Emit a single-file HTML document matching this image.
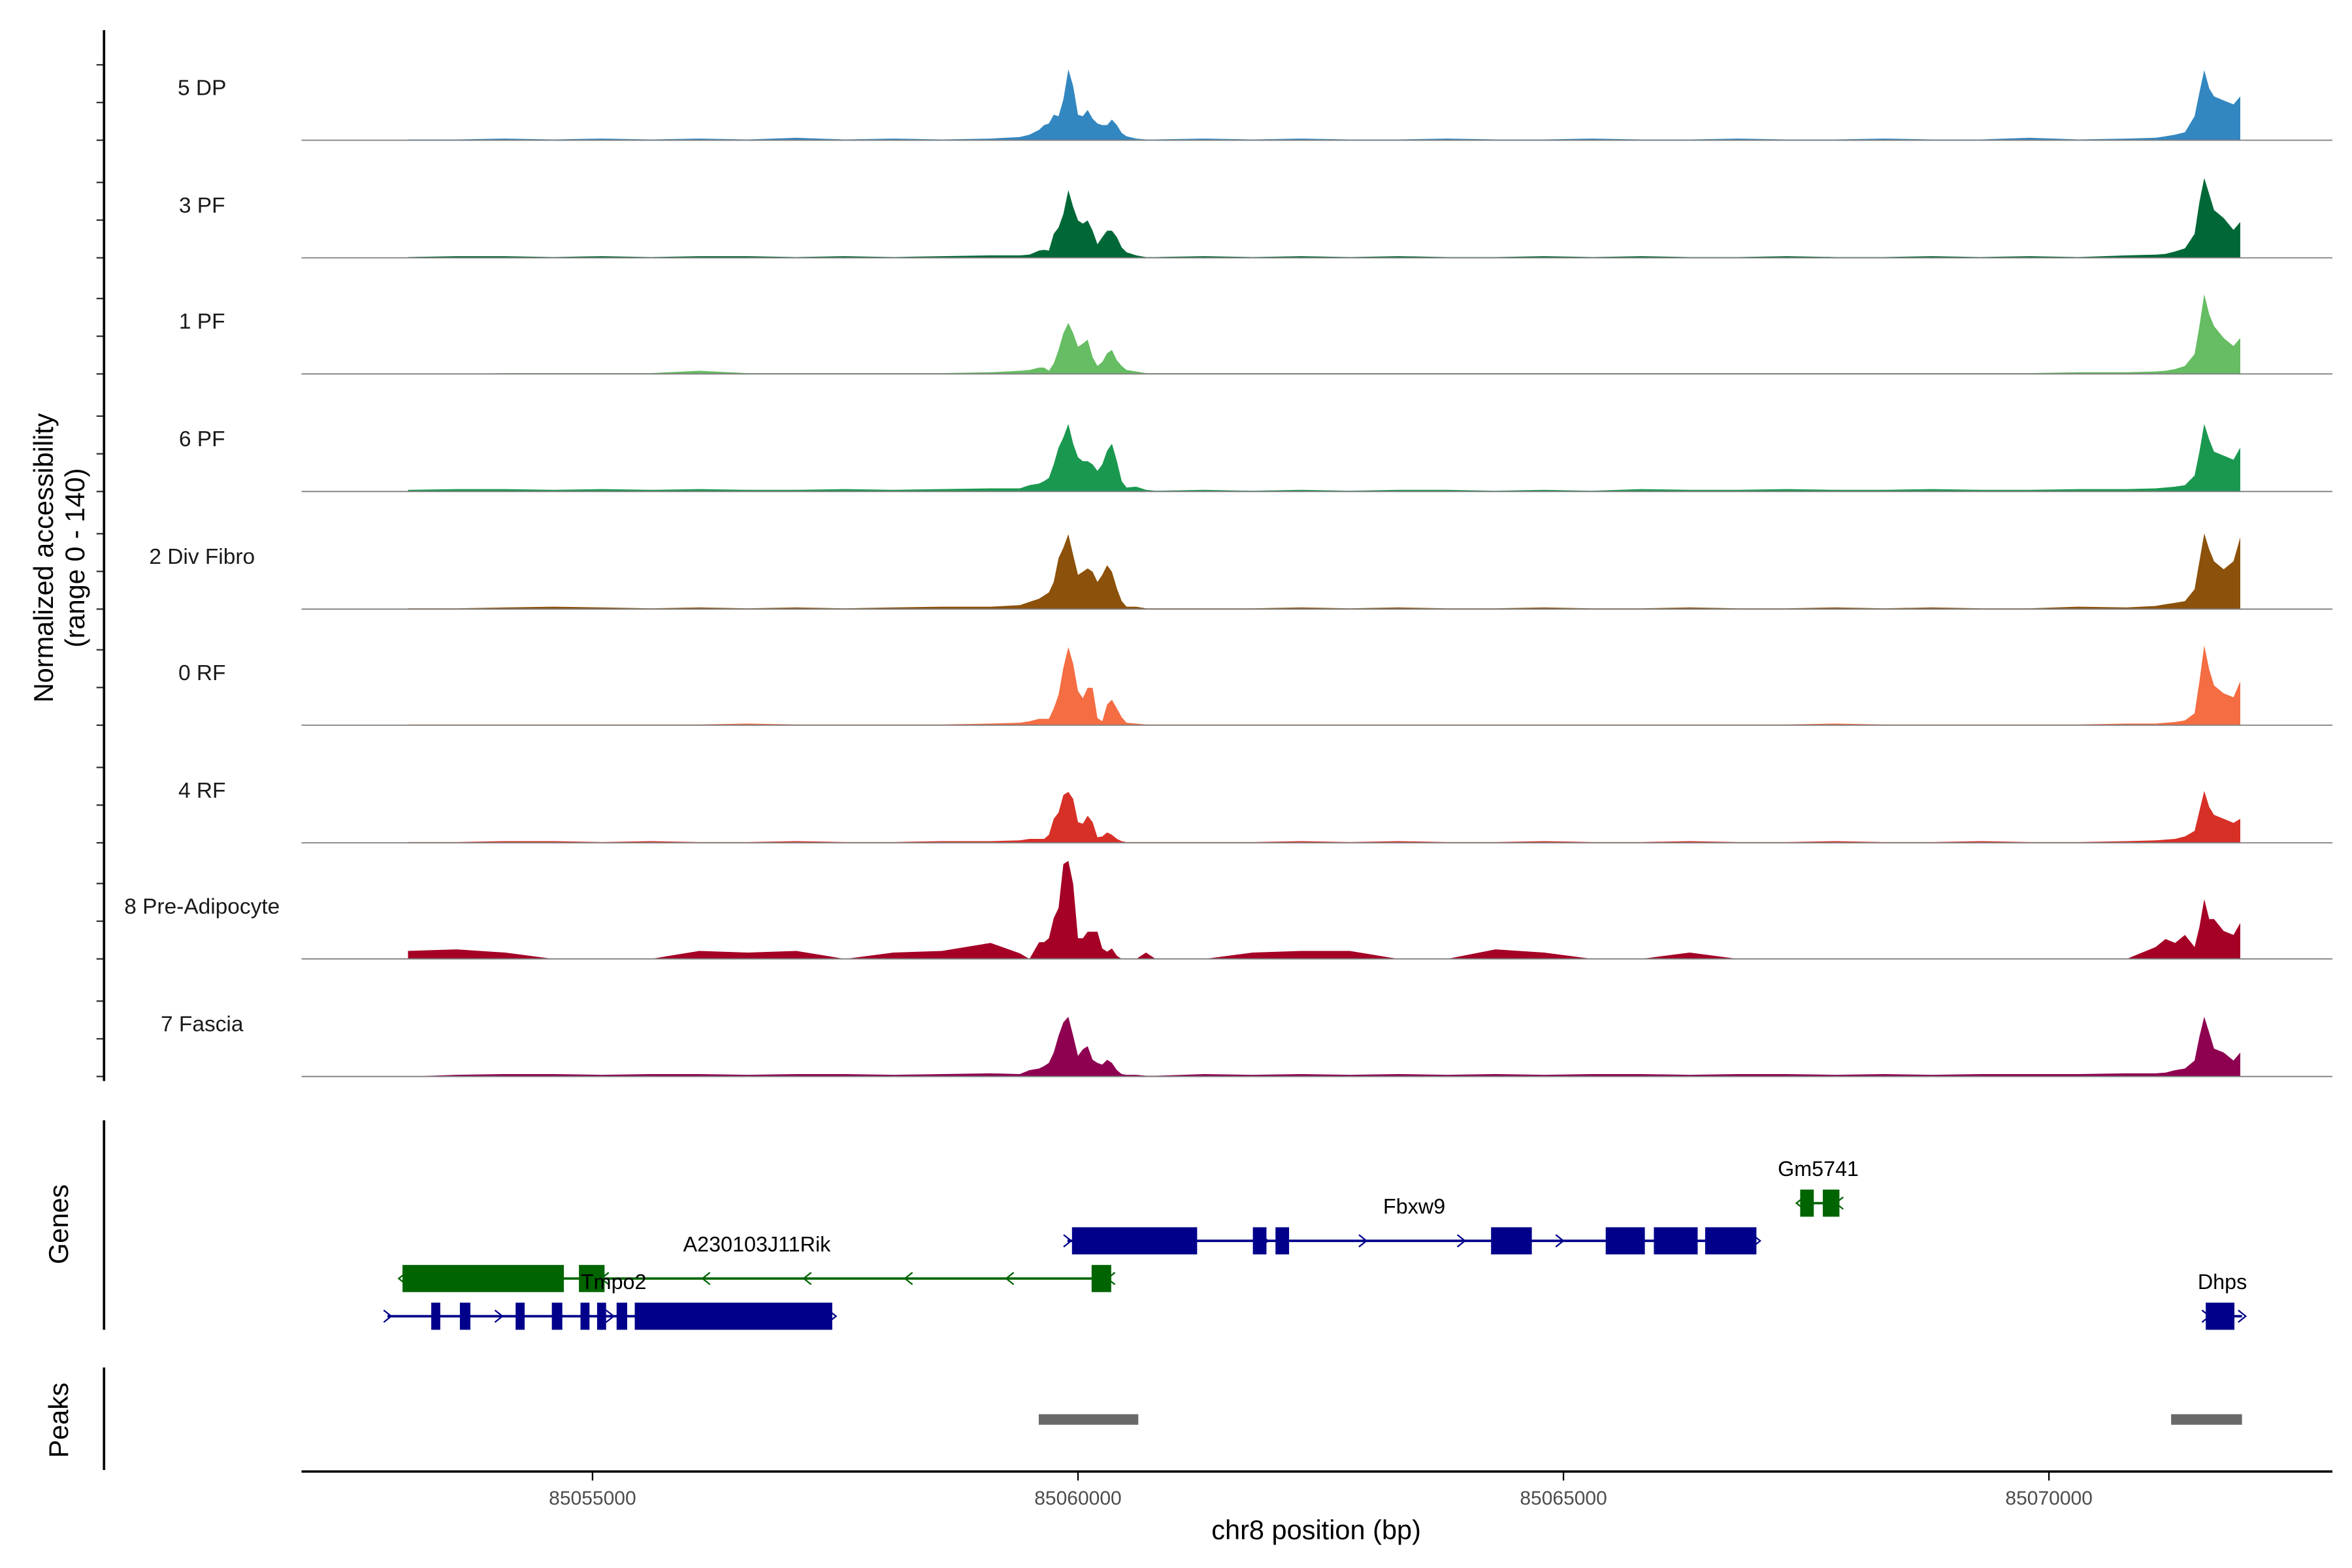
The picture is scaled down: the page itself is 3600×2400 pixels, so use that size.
<!DOCTYPE html>
<html><head><meta charset="utf-8"><style>
html,body{margin:0;padding:0;background:#fff;}
svg{display:block;font-family:"Liberation Sans",sans-serif;}
</style></head><body>
<svg id="chart" width="3600" height="2400" viewBox="0 0 1560 1040" xmlns="http://www.w3.org/2000/svg">
<g id="tracks"></g>
<g id="genes"></g>
<g id="peaks"></g>
<g id="axes"></g>
</svg>
<script>
const positions = [53100,53600,54100,54600,55100,55600,56100,56600,57100,57600,58100,58600,59100,
59400,59500,59600,59650,59700,59750,59800,59850,59900,59950,60000,60050,60100,60150,60200,60250,60300,60350,60400,60450,60500,60600,60700,60800,
61300,61800,62300,62800,63300,63800,64300,64800,65300,65800,66300,66800,67300,67800,68300,68800,69300,69800,70300,70800,
71100,71200,71300,71400,71500,71550,71600,71650,71700,71800,71900,71970];
const trackNames = ["5 DP","3 PF","1 PF","6 PF","2 Div Fibro","0 RF","4 RF","8 Pre-Adipocyte","7 Fascia"];
const trackColors = ["#3387c0","#006837","#66bd63","#1a9850","#8c510a","#f46d43","#d73027","#a50026","#8e0151"];
const dp5 = [1,1,2,1,2,1,2,1,3,1,2,1,2, 4,7,13,19,21,32,30,51,89,68,32,30,38,27,21,19,19,26,19,9,5,2,1,1, 2,1,2,1,1,2,1,1,2,1,1,2,1,1,2,1,1,3,1,2, 3,5,7,10,30,60,88,65,55,50,45,55];
const pf3 = [1,2,2,1,2,1,2,2,1,2,1,2,3, 3,4,9,10,9,30,38,55,85,64,47,43,47,34,17,26,34,34,26,13,7,3,1,1, 2,1,2,1,2,1,1,2,1,2,1,1,2,1,1,2,1,2,1,3, 4,5,8,12,30,70,100,80,60,50,35,45];
const pf1 = [0,0,1,1,1,1,4,1,1,1,1,1,2, 4,5,8,8,4,13,30,51,64,51,34,38,43,21,10,15,26,30,17,10,5,3,1,1, 1,1,1,1,1,1,1,1,1,1,1,1,1,1,1,1,1,1,2,2, 3,4,6,10,25,60,100,75,60,45,35,45];
const pf6 = [2,3,3,2,3,2,3,2,2,3,2,3,4, 4,8,10,13,17,34,55,68,85,60,43,38,38,34,26,34,51,60,38,13,5,6,2,1, 2,1,2,1,2,2,1,2,1,3,2,2,3,2,2,3,2,2,3,3, 4,5,6,8,20,50,85,65,50,45,40,55];
const divFibro2 = [1,1,2,3,2,1,2,1,2,1,2,3,3, 5,9,13,17,21,34,64,77,94,68,43,47,51,47,34,43,55,47,26,10,3,3,1,1, 1,1,2,1,2,1,1,2,1,1,2,1,1,2,1,2,1,1,3,2, 4,6,8,10,25,60,95,75,60,50,60,90];
const rf0 = [1,1,1,1,1,1,1,2,1,1,1,1,2, 3,5,8,8,8,21,38,72,98,77,43,34,47,47,9,5,26,32,21,10,3,2,1,1, 1,1,1,1,1,1,1,1,1,1,1,1,1,2,1,1,1,1,1,2, 2,3,4,6,15,55,100,70,50,40,35,55];
const rf4 = [1,1,2,2,1,2,1,1,2,1,1,2,2, 3,5,5,5,10,30,38,60,64,55,26,24,34,26,7,8,13,10,5,2,1,1,1,1, 1,1,2,1,2,1,1,2,1,1,2,1,1,2,1,1,2,1,1,2, 3,4,5,8,15,40,65,45,35,30,25,30];
const preAdipo8 = [10,12,8,0,0,0,10,8,10,0,8,10,20, 7,0,21,21,26,51,64,119,123,94,26,26,34,34,34,13,9,13,4,0,0,0,8,0, 0,8,10,10,0,0,12,8,0,0,8,0,0,0,0,0,0,0,0,0, 15,25,20,30,15,40,75,50,50,35,30,45];
const fascia7 = [0,2,3,3,2,3,3,2,3,3,2,3,4, 3,8,10,13,17,30,51,68,75,51,26,34,38,21,17,15,21,17,8,3,2,2,1,1, 3,2,3,2,3,2,3,2,3,3,2,3,3,2,3,2,3,3,3,4, 4,5,8,10,20,50,75,55,35,30,20,30];
const trackValues = [dp5,pf3,pf1,pf6,divFibro2,rf0,rf4,preAdipo8,fascia7];
const xTicks = [85055000,85060000,85065000,85070000];
const geneNames = ["Fbxw9","A230103J11Rik","Tmpo2","Gm5741","Dhps"];
const geneStrands = ["+","-","+","-","+"];
const geneSpans = [[59891,66987],[53043,60342],[52888,57469],[67438,67842],[71615,71988]];
const geneExons = [
 [[59938,61227],[61801,61941],[62034,62174],[64254,64674],[65435,65838],[65931,66382],[66459,66987]],
 [[53043,54705],[54860,55124],[60140,60342]],
 [[53339,53432],[53634,53742],[54208,54301],[54581,54689],[54876,54969],[55047,55140],[55248,55357],[55435,57469]],
 [[67438,67578],[67671,67842]],
 [[71615,71910]]
];
const geneColors = ["#00008b","#006400","#00008b","#006400","#00008b"];
const geneRows = [823,848,873,798,873];
const peakStarts = [59596,71258];
const peakEnds = [60621,71988];

const NS="http://www.w3.org/2000/svg";
function x(bp){ if(bp<1e7) bp+=85000000; return 393+(bp-85055000)*322/5000; }
const baselines=[93,171,248,326,404,481,559,636,714];
function y(v,i){ return baselines[i]-v*74/140; }
function mk(tag,attrs,parent){const e=document.createElementNS(NS,tag);for(const k in attrs)e.setAttribute(k,attrs[k]);parent.appendChild(e);return e;}
const gT=document.getElementById('tracks'), gG=document.getElementById('genes'), gP=document.getElementById('peaks'), gA=document.getElementById('axes');

trackValues.forEach((vals,i)=>{
  let d="M"+x(positions[0])+","+baselines[i];
  vals.forEach((v,j)=>{ d+=" L"+x(positions[j]).toFixed(1)+","+y(v,i).toFixed(1); });
  d+=" L"+x(positions[positions.length-1]).toFixed(1)+","+baselines[i]+" Z";
  const p=mk('path',{d:d,fill:trackColors[i],stroke:'none'},gT);
  
  
  const bl=mk('line',{x1:200,x2:1547,y1:baselines[i],y2:baselines[i],stroke:'#7f7f7f','stroke-width':0.8},gT);
  
  
  const t=mk('text',{x:134,y:baselines[i]-30,'font-size':14.5,'text-anchor':'middle',fill:'#1a1a1a'},gT);
  t.textContent=trackNames[i];
  
  
  [0,25,50].forEach(o=>{
    const tk=mk('line',{x1:64,x2:69,y1:baselines[i]-o,y2:baselines[i]-o,stroke:'#333','stroke-width':1},gA);
    
    
  });
});

geneNames.forEach((name,i)=>{
  const c=geneColors[i], r=geneRows[i], s=geneSpans[i];
  const ln=mk('line',{x1:x(s[0]),x2:x(s[1]),y1:r,y2:r,stroke:c,'stroke-width':1.6},gG);
  
  
  const span=x(s[1])-x(s[0]);
  const n=Math.max(1,Math.floor(span/64));
  for(let k=0;k<=n;k++){
    const cx=x(s[0])+k*span/(n||1);
    const dir=geneStrands[i]=="+"?1:-1;
    const ch=mk('path',{d:`M${cx-2.5*dir},${r-4} L${cx+2.5*dir},${r} L${cx-2.5*dir},${r+4}`,fill:'none',stroke:c,'stroke-width':1},gG);
    
    
  }
  geneExons[i].forEach(e=>{
    const rc=mk('rect',{x:x(e[0]),y:r-9,width:Math.max(2,x(e[1])-x(e[0])),height:18,fill:c},gG);
    
    
  });
  const lx={Fbxw9:938,A230103J11Rik:502,Tmpo2:407,Gm5741:1206,Dhps:1474}[name];
  const t=mk('text',{x:lx,y:r-18,'font-size':14,'text-anchor':'middle',fill:'#000'},gG);
  t.textContent=name;
  
  
});

peakStarts.forEach((s,i)=>{
  const rc=mk('rect',{x:x(s),y:938,width:x(peakEnds[i])-x(s),height:7,fill:'#696969'},gP);
  
  
});

function axLine(x1,y1,x2,y2,w,name){const l=mk('line',{x1,y1,x2,y2,stroke:'#000','stroke-width':w},gA);}
axLine(69,20,69,717,1.6,'y-axis-line-coverage');
axLine(69,743,69,882,1.6,'y-axis-line-genes');
axLine(69,907,69,975,1.6,'y-axis-line-peaks');
axLine(200,976,1547,976,1.6,'x-axis-line');
xTicks.forEach(v=>{
  axLine(x(v),976,x(v),982,1,'x-tick');
  const t=mk('text',{x:x(v),y:998,'font-size':13,'text-anchor':'middle',fill:'#4d4d4d'},gA);
  t.textContent=String(v);
  
  
});
const xt=mk('text',{x:873,y:1021,'font-size':18,'text-anchor':'middle',fill:'#000'},gA);
xt.textContent="chr8 position (bp)";


function rotText(txt,cx,cy,size,name){const t=mk('text',{x:cx,y:cy,'font-size':size,'text-anchor':'middle',transform:`rotate(-90 ${cx} ${cy})`,fill:'#000'},gA);t.textContent=txt;}
rotText("Normalized accessibility",35,370,18,'y-axis-title');
rotText("(range 0 - 140)",56,370,18,'y-axis-subtitle');
rotText("Genes",45,812,18,'genes-axis-title');
rotText("Peaks",45,942,18,'peaks-axis-title');
</script>
</body></html>
